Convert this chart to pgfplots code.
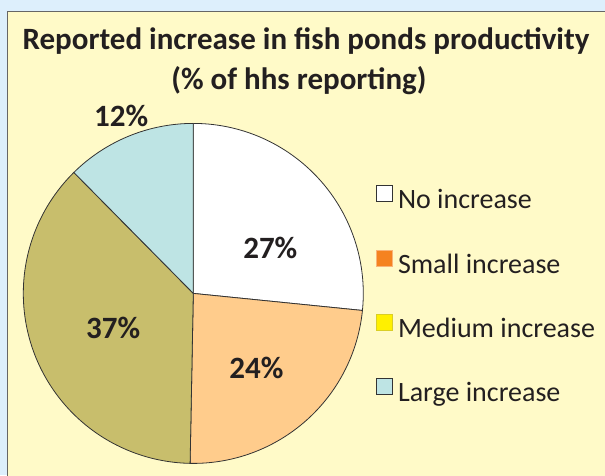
\documentclass[border=0pt]{standalone}
\usepackage{pgfplots}
\pgfplotsset{compat=1.18}
\usepackage{fontspec}
\setmainfont{Carlito}
\definecolor{bgblue}{HTML}{DDEFFC}
\definecolor{boxyel}{HTML}{FFFAC8}
\definecolor{sOrange}{HTML}{FFCC8C}
\definecolor{sKhaki}{HTML}{C8BE6C}
\definecolor{sCyan}{HTML}{BEE4E4}
\definecolor{lOrange}{HTML}{F58220}
\definecolor{lYellow}{HTML}{FFF000}
\definecolor{edge}{HTML}{333333}
\definecolor{txt}{HTML}{231F20}
% values (% of hhs; shares as drawn)
\def\vA{26.6}\def\vB{23.7}\def\vC{37.3}\def\vD{12.4}
\pgfmathsetmacro{\sA}{90}
\pgfmathsetmacro{\eA}{\sA-3.6*\vA}
\pgfmathsetmacro{\eB}{\eA-3.6*\vB}
\pgfmathsetmacro{\eC}{\eB-3.6*\vC}
\pgfmathsetmacro{\eD}{\eC-3.6*\vD}
\begin{document}
\begin{tikzpicture}[x=1pt,y=1pt]
\useasboundingbox (0,0) rectangle (605,475);
\fill[bgblue] (0,0) rectangle (605,475);
\begin{scope}
\clip (0,0) rectangle (605,475);
\filldraw[fill=boxyel, draw=gray!80!black, line width=1pt] (7,-10) rectangle (620,463);
\end{scope}
\node[font=\bfseries\fontsize{31}{36}\selectfont, anchor=base, text=txt] at (306,425) {Reported increase in fish ponds productivity};
\node[font=\bfseries\fontsize{31}{36}\selectfont, anchor=base, text=txt] at (299,385) {(\% of hhs reporting)};
\begin{axis}[
  x=170pt, y=170pt,
  xmin=-1, xmax=1, ymin=-1, ymax=1,
  hide axis, clip=false,
  at={(23.3pt,11.6pt)}, anchor=south west,
  legend cell align=left,
  legend image code/.code={\draw[#1] (0pt,0pt) rectangle (16pt,16pt);},
  legend style={draw=none, fill=none, inner sep=0pt, outer sep=0pt,
    row sep=35pt, column sep=5pt,
    font=\fontsize{28}{32}\selectfont, text=txt,
    nodes={inner sep=0pt, text height=20pt, text depth=6pt},
    at={(axis cs:1.076,0.635)}, anchor=north west},
]
\addplot[forget plot, fill=white, draw=edge, line width=0.8pt, domain=\eA:\sA, samples=80, variable=\t]
  ({cos(\t)},{sin(\t)}) -- (axis cs:0,0) -- cycle;
\addplot[forget plot, fill=sOrange, draw=edge, line width=0.8pt, domain=\eB:\eA, samples=80, variable=\t]
  ({cos(\t)},{sin(\t)}) -- (axis cs:0,0) -- cycle;
\addplot[forget plot, fill=sKhaki, draw=edge, line width=0.8pt, domain=\eC:\eB, samples=100, variable=\t]
  ({cos(\t)},{sin(\t)}) -- (axis cs:0,0) -- cycle;
\addplot[forget plot, fill=sCyan, draw=edge, line width=0.8pt, domain=\eD:\eC, samples=40, variable=\t]
  ({cos(\t)},{sin(\t)}) -- (axis cs:0,0) -- cycle;
\addlegendimage{fill=white, draw=edge, line width=0.8pt}
\addlegendentry{No increase}
\addlegendimage{fill=lOrange, draw=lOrange!60, line width=0.6pt}
\addlegendentry{Small increase}
\addlegendimage{fill=lYellow, draw=lYellow!70!gray, line width=0.6pt}
\addlegendentry{Medium increase}
\addlegendimage{fill=sCyan, draw=edge, line width=0.8pt}
\addlegendentry{Large increase}
\begin{scope}[every node/.style={font=\bfseries\fontsize{31}{34}\selectfont, text=txt}]
\node at (axis cs:0.453,0.265) {27\%};
\node at (axis cs:0.371,-0.441) {24\%};
\node at (axis cs:-0.471,-0.206) {37\%};
\node at (axis cs:-0.424,1.041) {12\%};
\end{scope}
\end{axis}
\end{tikzpicture}
\end{document}
